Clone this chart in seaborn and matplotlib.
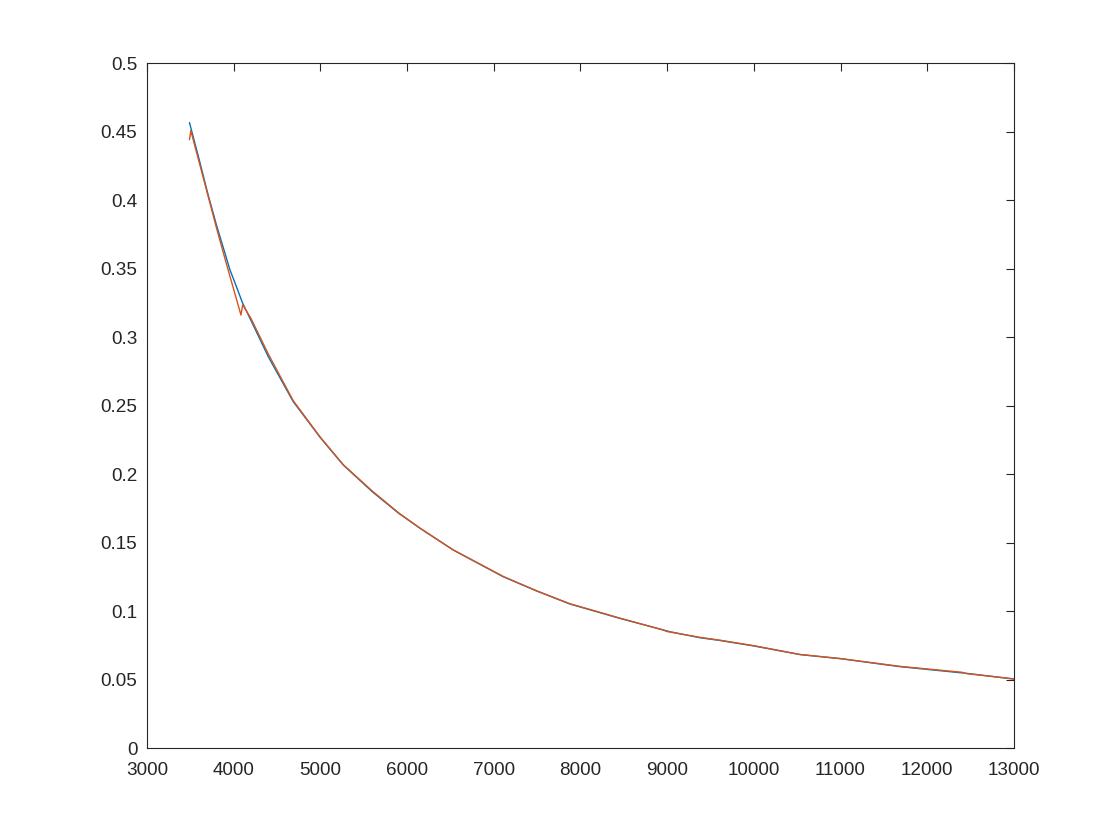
import matplotlib
matplotlib.use("Agg")
import matplotlib.pyplot as plt
import seaborn as sns
import pandas as pd

# curve 1 (blue)
blue_x = [3490, 3600, 3700, 3800, 3900, 3957, 4000, 4104, 4200, 4400, 4687,
          5000, 5264, 5600, 5900, 6149, 6533, 7110, 7500, 7879, 8456, 9032,
          9378, 9609, 10000, 10532, 11000, 11685, 12454, 13000]
blue_y = [0.4565, 0.430, 0.405, 0.382, 0.361, 0.349, 0.342, 0.3246, 0.312,
          0.2855, 0.2528, 0.2265, 0.2066, 0.187, 0.1715, 0.1604, 0.1445,
          0.125, 0.1145, 0.1051, 0.0946, 0.0849, 0.0805, 0.0785, 0.0745,
          0.0682, 0.0652, 0.0594, 0.0545, 0.0504]

# curve 2 (orange): same shape with a hook at the start and a dip near 4100
orange_x = [3490, 3505, 3600, 3700, 3800, 3900, 4084, 4104, 4200, 4400, 4687,
            5000, 5264, 5600, 5900, 6149, 6533, 7110, 7500, 7879, 8456, 8950,
            9000, 9378, 9609, 10000, 10532, 11000, 11685, 12400, 12454, 13000]
orange_y = [0.444, 0.4506, 0.428, 0.404, 0.380, 0.357, 0.316, 0.3235, 0.3135,
            0.2875, 0.2535, 0.2268, 0.2068, 0.1875, 0.1718, 0.1605, 0.1446,
            0.1252, 0.1146, 0.1053, 0.0948, 0.0862, 0.0850, 0.0808, 0.0787,
            0.0747, 0.0683, 0.0653, 0.0596, 0.0553, 0.0543, 0.0504]

sns.set_style("white")
plt.rcParams["font.family"] = ["Liberation Sans", "DejaVu Sans"]

fig = plt.figure(figsize=(11.2, 8.4), dpi=100)
ax = fig.add_axes([0.13125, 0.1095, 0.774, 0.8155])

df_b = pd.DataFrame({"x": blue_x, "y": blue_y})
df_o = pd.DataFrame({"x": orange_x, "y": orange_y})
sns.lineplot(data=df_b, x="x", y="y", ax=ax, color="#0072BD", lw=1.0,
             estimator=None, sort=False)
sns.lineplot(data=df_o, x="x", y="y", ax=ax, color="#D95319", lw=1.0,
             estimator=None, sort=False)

ax.set_xlim(3000, 13000)
ax.set_ylim(0, 0.5)
ax.set_xticks(range(3000, 13001, 1000))
ax.set_yticks([i * 0.05 for i in range(11)])
ax.set_yticklabels(["0", "0.05", "0.1", "0.15", "0.2", "0.25", "0.3",
                    "0.35", "0.4", "0.45", "0.5"])
ax.set_xlabel("")
ax.set_ylabel("")
ax.tick_params(direction="in", length=6, width=0.8, top=True, right=True,
               labelsize=13.6, colors="#262626")
ax.tick_params(axis="x", pad=10)
ax.tick_params(axis="y", pad=7)
for s in ax.spines.values():
    s.set_color("#262626")
    s.set_linewidth(0.8)

fig.savefig("out.png", dpi=100, facecolor="white")
